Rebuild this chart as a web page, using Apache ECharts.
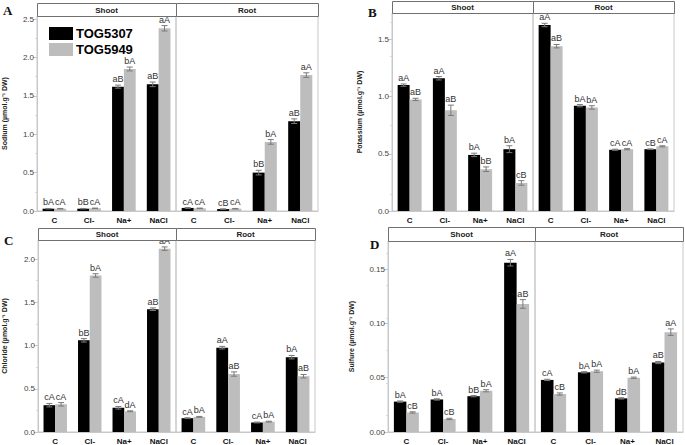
<!DOCTYPE html>
<html><head><meta charset="utf-8">
<script src="https://cdn.jsdelivr.net/npm/echarts@6.0.0/dist/echarts.min.js"></script>
<style>html,body{margin:0;padding:0;background:#fff}#c{width:685px;height:445px}</style>
</head><body><div id="c"></div>
<script>
// ---------- data ----------
const categories = ['C', 'Cl-', 'Na+', 'NaCl'];
const facets = ['Shoot', 'Root'];
const genotypes = ['TOG5307', 'TOG5949'];

// A: Sodium
const naShoot5307 = [0.03, 0.03, 1.62, 1.65];
const naShoot5307Err = [0.003, 0.003, 0.02, 0.03];
const naShoot5307Sig = ['bA', 'bB', 'aB', 'aB'];
const naShoot5949 = [0.03, 0.035, 1.85, 2.38];
const naShoot5949Err = [0.003, 0.003, 0.025, 0.035];
const naShoot5949Sig = ['cA', 'cA', 'bA', 'aA'];
const naRoot5307 = [0.04, 0.025, 0.50, 1.17];
const naRoot5307Err = [0.005, 0.003, 0.03, 0.03];
const naRoot5307Sig = ['cA', 'cB', 'bB', 'aB'];
const naRoot5949 = [0.035, 0.03, 0.90, 1.77];
const naRoot5949Err = [0.003, 0.003, 0.03, 0.03];
const naRoot5949Sig = ['cA', 'cA', 'bA', 'aA'];
const naTicks = [0, 0.5, 1.0, 1.5, 2.0, 2.5];

// B: Potassium
const kShoot5307 = [1.10, 1.16, 0.49, 0.54];
const kShoot5307Err = [0.01, 0.015, 0.015, 0.03];
const kShoot5307Sig = ['aA', 'aA', 'bA', 'bA'];
const kShoot5949 = [0.975, 0.88, 0.365, 0.245];
const kShoot5949Err = [0.01, 0.045, 0.02, 0.02];
const kShoot5949Sig = ['aB', 'aB', 'bB', 'cB'];
const kRoot5307 = [1.625, 0.92, 0.535, 0.54];
const kRoot5307Err = [0.015, 0.01, 0.005, 0.003];
const kRoot5307Sig = ['aA', 'bA', 'cA', 'cB'];
const kRoot5949 = [1.44, 0.905, 0.54, 0.565];
const kRoot5949Err = [0.015, 0.015, 0.005, 0.005];
const kRoot5949Sig = ['aB', 'bA', 'cA', 'cA'];
const kTicks = [0, 0.5, 1.0, 1.5];

// C: Chloride
const clShoot5307 = [0.31, 1.06, 0.28, 1.42];
const clShoot5307Err = [0.02, 0.02, 0.015, 0.015];
const clShoot5307Sig = ['cA', 'bB', 'cA', 'aB'];
const clShoot5949 = [0.32, 1.81, 0.24, 2.12];
const clShoot5949Err = [0.02, 0.02, 0.005, 0.02];
const clShoot5949Sig = ['cA', 'bA', 'dA', 'aA'];
const clRoot5307 = [0.16, 0.975, 0.11, 0.865];
const clRoot5307Err = [0.005, 0.015, 0.005, 0.02];
const clRoot5307Sig = ['cA', 'aA', 'cA', 'bA'];
const clRoot5949 = [0.175, 0.67, 0.12, 0.645];
const clRoot5949Err = [0.005, 0.025, 0.005, 0.02];
const clRoot5949Sig = ['bA', 'aB', 'bA', 'aB'];
const clTicks = [0, 0.5, 1.0, 1.5, 2.0];

// D: Sulfure
const sShoot5307 = [0.028, 0.030, 0.033, 0.156];
const sShoot5307Err = [0.0006, 0.0006, 0.0006, 0.003];
const sShoot5307Sig = ['bA', 'bA', 'bB', 'aA'];
const sShoot5949 = [0.018, 0.012, 0.038, 0.118];
const sShoot5949Err = [0.0006, 0.0006, 0.001, 0.004];
const sShoot5949Sig = ['cB', 'cB', 'bA', 'aB'];
const sRoot5307 = [0.048, 0.055, 0.031, 0.064];
const sRoot5307Err = [0.0006, 0.0006, 0.0006, 0.001];
const sRoot5307Sig = ['cA', 'bA', 'dB', 'aB'];
const sRoot5949 = [0.035, 0.056, 0.050, 0.092];
const sRoot5949Err = [0.001, 0.001, 0.0006, 0.003];
const sRoot5949Sig = ['cB', 'bA', 'bA', 'aA'];
const sTicks = [0, 0.05, 0.10, 0.15];

// ---------- layout (styling) ----------
const panels = [
  { letter: 'A', name: 'Sodium (µmol.g⁻¹ DW)', ticks: naTicks, dec: 1, max: 2.54,
    shoot: [37, 176], root: [176, 318], top: 16, bottom: 211, headTop: 3, nameGap: 29, lpos: [3, 4],
    data: { Shoot: [[naShoot5307, naShoot5307Err, naShoot5307Sig], [naShoot5949, naShoot5949Err, naShoot5949Sig]],
            Root: [[naRoot5307, naRoot5307Err, naRoot5307Sig], [naRoot5949, naRoot5949Err, naRoot5949Sig]] } },
  { letter: 'B', name: 'Potassium (µmol.g⁻¹ DW)', ticks: kTicks, dec: 1, max: 1.73,
    shoot: [392, 533], root: [533, 674], top: 13, bottom: 211, headTop: 1, nameGap: 29, lpos: [368, 6],
    data: { Shoot: [[kShoot5307, kShoot5307Err, kShoot5307Sig], [kShoot5949, kShoot5949Err, kShoot5949Sig]],
            Root: [[kRoot5307, kRoot5307Err, kRoot5307Sig], [kRoot5949, kRoot5949Err, kRoot5949Sig]] } },
  { letter: 'C', name: 'Chloride (µmol.g⁻¹ DW)', ticks: clTicks, dec: 1, max: 2.22,
    shoot: [38, 176], root: [176, 315], top: 240, bottom: 434, headTop: 228, nameGap: 30, lpos: [4, 234],
    data: { Shoot: [[clShoot5307, clShoot5307Err, clShoot5307Sig], [clShoot5949, clShoot5949Err, clShoot5949Sig]],
            Root: [[clRoot5307, clRoot5307Err, clRoot5307Sig], [clRoot5949, clRoot5949Err, clRoot5949Sig]] } },
  { letter: 'D', name: 'Sulfure (µmol.g⁻¹ DW)', ticks: sTicks, dec: 2, max: 0.176,
    shoot: [388, 535], root: [535, 683], top: 241, bottom: 432, headTop: 227, nameGap: 33, lpos: [370, 238],
    data: { Shoot: [[sShoot5307, sShoot5307Err, sShoot5307Sig], [sShoot5949, sShoot5949Err, sShoot5949Sig]],
            Root: [[sRoot5307, sRoot5307Err, sRoot5307Sig], [sRoot5949, sRoot5949Err, sRoot5949Sig]] } }
];
const barColors = ['#000000', '#bdbdbd'];
const BAR_FRAC = 0.34;

const grid = [], xAxis = [], yAxis = [], series = [], graphic = [];
let gi = 0;
panels.forEach(p => {
  facets.forEach((f, fi) => {
    const span = fi === 0 ? p.shoot : p.root;
    grid.push({ left: span[0], top: p.top, width: span[1] - span[0], height: p.bottom - p.top,
      show: true, borderColor: '#c8c8c8', borderWidth: 1, backgroundColor: 'transparent', containLabel: false });
    xAxis.push({ type: 'category', gridIndex: gi, data: categories,
      axisLine: { show: true, lineStyle: { color: '#c8c8c8' } }, axisTick: { show: false },
      axisLabel: { fontSize: 8, fontWeight: 'bold', color: '#111', margin: 5, fontFamily: 'Arial' } });
    const first = fi === 0;
    yAxis.push({ type: 'value', gridIndex: gi, min: 0, max: p.max,
      name: first ? p.name : '', nameLocation: 'middle', nameGap: p.nameGap,
      nameTextStyle: { fontSize: 7, fontWeight: 'bold', color: '#222', fontFamily: 'Arial' },
      axisLine: { show: first, lineStyle: { color: '#c8c8c8' } },
      axisTick: { show: first, length: 4, lineStyle: { color: '#c8c8c8' }, customValues: p.ticks },
      minorTick: { show: first, splitNumber: 2, length: 2, lineStyle: { color: '#d8d8d8' } },
      axisLabel: { show: first, fontSize: 8, color: '#444', margin: 3, fontFamily: 'Arial',
        customValues: p.ticks, formatter: v => v.toFixed(p.dec) },
      splitLine: { show: false } });
    [0, 1].forEach(s => {
      const [vals] = p.data[f][s];
      series.push({ type: 'bar', name: genotypes[s], xAxisIndex: gi, yAxisIndex: gi, data: vals,
        barWidth: (BAR_FRAC * 100) + '%', barGap: '0%', itemStyle: { color: barColors[s] },
        emphasis: { disabled: true }, z: 2 });
    });
    [0, 1].forEach(s => {
      const [vals, errs, sig] = p.data[f][s];
      series.push({ type: 'custom', xAxisIndex: gi, yAxisIndex: gi, z: 5, silent: true,
        data: vals.map((v, i) => [i, v, errs[i]]),
        renderItem: (params, api) => {
          const i = params.dataIndex;
          const cat = api.value(0), v = api.value(1), e = api.value(2);
          const band = api.size([1, 0])[0];
          const off = (s === 0 ? -0.5 : 0.5) * band * BAR_FRAC;
          const pt = api.coord([cat, v + e]);
          const pb = api.coord([cat, v - e]);
          const x = pt[0] + off;
          const cap = 3;
          const col = '#7a7a7a';
          return { type: 'group', children: [
            { type: 'line', shape: { x1: x, y1: pt[1], x2: x, y2: pb[1] }, style: { stroke: col, lineWidth: 1 } },
            { type: 'line', shape: { x1: x - cap, y1: pt[1], x2: x + cap, y2: pt[1] }, style: { stroke: col, lineWidth: 1 } },
            { type: 'line', shape: { x1: x - cap, y1: pb[1], x2: x + cap, y2: pb[1] }, style: { stroke: col, lineWidth: 1 } },
            { type: 'text', x: x, y: pt[1] - 1.5, style: { text: sig[i], align: 'center', verticalAlign: 'bottom',
              fontSize: 9, lineHeight: 9, fontFamily: 'Arial', fill: '#333' } }
          ] };
        } });
    });
    // facet header
    graphic.push({ type: 'rect', shape: { x: span[0] + 0.5, y: p.headTop + 0.5, width: span[1] - span[0], height: p.top - p.headTop },
      style: { fill: '#fff', stroke: '#707070', lineWidth: 1 }, z: 10 });
    graphic.push({ type: 'text', x: (span[0] + span[1]) / 2, y: (p.headTop + p.top) / 2 + 0.5,
      style: { text: f, align: 'center', verticalAlign: 'middle', fontSize: 8, fontWeight: 'bold', fontFamily: 'Arial', fill: '#222' }, z: 11 });
    gi++;
  });
  graphic.push({ type: 'text', left: p.lpos[0], top: p.lpos[1],
    style: { text: p.letter, fontSize: 13, fontWeight: 'bold', fontFamily: 'Liberation Serif', fill: '#111' }, z: 11 });
});

const chart = echarts.init(document.getElementById('c'), null, { renderer: 'svg' });
chart.setOption({
  animation: false,
  backgroundColor: '#fff',
  grid, xAxis, yAxis, series, graphic,
  legend: { data: genotypes, orient: 'vertical', left: 44, top: 22, itemWidth: 24, itemHeight: 13, itemGap: 3,
    icon: 'rect', selectedMode: false,
    textStyle: { fontSize: 13, lineHeight: 13, fontWeight: 'bold', color: '#000', fontFamily: 'Arial', padding: [0, 0, 0, -2] } }
});
</script></body></html>
